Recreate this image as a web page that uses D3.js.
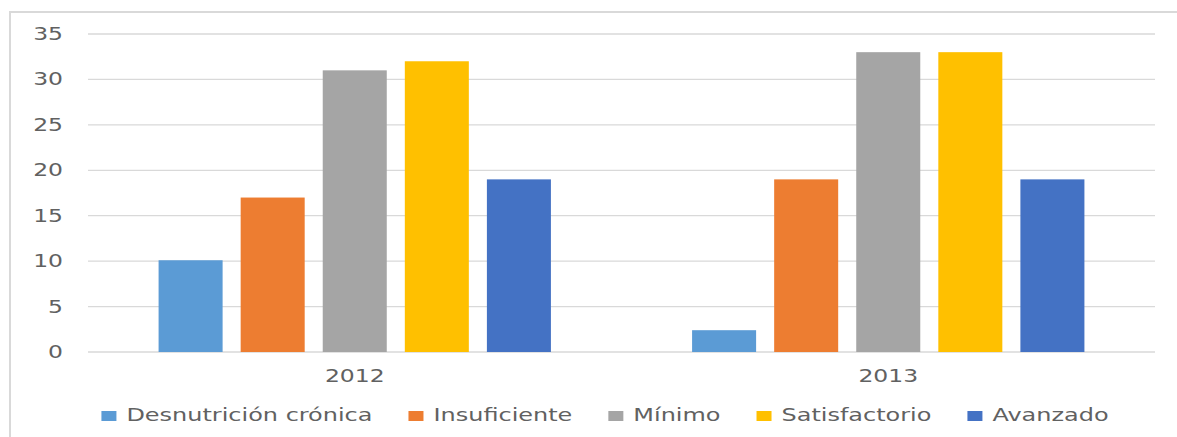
<!DOCTYPE html>
<html>
<head>
<meta charset="utf-8">
<script src="https://cdn.jsdelivr.net/npm/d3@7"></script>
<style>
  html, body { margin: 0; padding: 0; background: #fff; }
  svg { display: block; }
  text { font-family: "DejaVu Sans", sans-serif; fill: #616161; }
</style>
</head>
<body>
<svg id="chart" width="1177" height="437"></svg>
<script>
const years = ["2012", "2013"];
const series = ["Desnutrición crónica", "Insuficiente", "Mínimo", "Satisfactorio", "Avanzado"];
const values2012 = [10.1, 17, 31, 32, 19];
const values2013 = [2.4, 19, 33, 33, 19];
const colors = ["#5B9BD5", "#ED7D31", "#A5A5A5", "#FFC000", "#4472C4"];
const yTicks = [0, 5, 10, 15, 20, 25, 30, 35];

const valuesByYear = [values2012, values2013];
const W = 1177, H = 437;
const margin = { left: 88, right: 22, top: 34, bottom: 85 };
const stretch = 1.38;
const legendStretch = 1.41;
const fontSize = 17;

const svg = d3.select("#chart");

// chart frame
svg.append("rect")
  .attr("x", 10).attr("y", 12)
  .attr("width", W + 20).attr("height", H + 20)
  .attr("fill", "#fff")
  .attr("stroke", "#D9D9D9").attr("stroke-width", 2);

const x0 = d3.scaleBand().domain(years).range([margin.left, W - margin.right]).padding(0);
const x1 = d3.scaleBand().domain(series).range([0, x0.bandwidth()]).paddingInner(0.22).paddingOuter(0.86);
const y = d3.scaleLinear().domain([0, 35]).range([H - margin.bottom, margin.top]);

function stretchedText(sel, x, yy, anchor, k) {
  sel.attr("text-anchor", anchor)
     .attr("font-size", fontSize)
     .attr("transform", `translate(${x},${yy}) scale(${k || stretch},1)`);
  return sel;
}

// gridlines
svg.append("g").selectAll("line").data(yTicks).join("line")
  .attr("x1", margin.left).attr("x2", W - margin.right)
  .attr("y1", d => y(d)).attr("y2", d => y(d))
  .attr("stroke", "#D9D9D9").attr("stroke-width", 1.3);

// y tick labels
const yAxis = svg.append("g");
yTicks.forEach(t => {
  stretchedText(yAxis.append("text").text(t), 63, y(t) + 6, "end");
});

// bars
const groups = svg.append("g").selectAll("g").data(years).join("g")
  .attr("transform", d => `translate(${x0(d)},0)`);
groups.selectAll("rect")
  .data((d, i) => series.map((s, j) => ({ s, v: valuesByYear[i][j], c: colors[j] })))
  .join("rect")
  .attr("x", d => x1(d.s))
  .attr("width", x1.bandwidth())
  .attr("y", d => y(d.v))
  .attr("height", d => y(0) - y(d.v))
  .attr("fill", d => d.c);

// x labels
const xAxis = svg.append("g");
years.forEach(yr => {
  stretchedText(xAxis.append("text").text(yr), x0(yr) + x0.bandwidth() / 2, 382, "middle");
});

// legend
const legend = svg.append("g");
const sqW = 15, sqH = 10, sqGap = 10, itemGap = 36;
const items = series.map((s, i) => {
  const g = legend.append("g");
  g.append("rect").attr("width", sqW).attr("height", sqH).attr("y", -10).attr("fill", colors[i]);
  const t = g.append("text").text(s);
  stretchedText(t, sqW + sqGap, 0, "start", legendStretch);
  const w = t.node().getComputedTextLength() * legendStretch;
  return { g, w: sqW + sqGap + w };
});
const total = d3.sum(items, d => d.w) + itemGap * (items.length - 1);
let cx = 605 - total / 2;
items.forEach(it => {
  it.g.attr("transform", `translate(${cx},421)`);
  cx += it.w + itemGap;
});
</script>
</body>
</html>
